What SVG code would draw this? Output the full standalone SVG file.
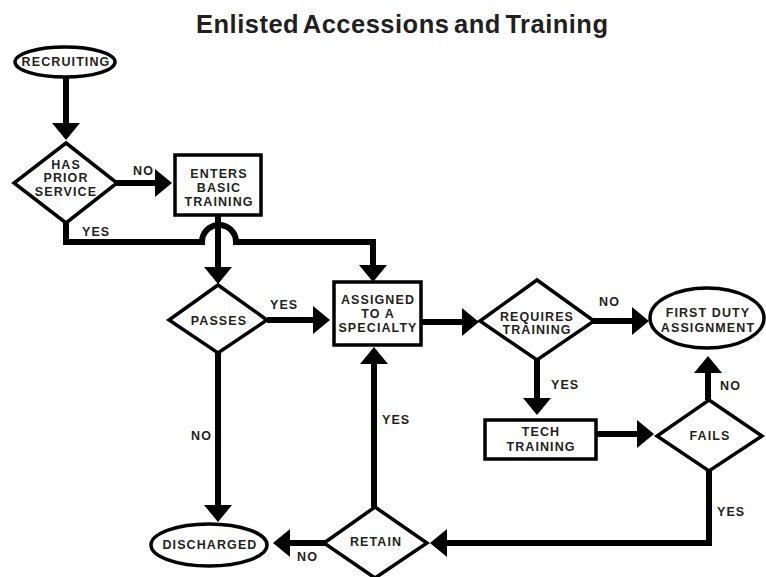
<svg xmlns="http://www.w3.org/2000/svg" width="766" height="577" viewBox="0 0 766 577">
<style>
.shape{fill:#fff;stroke:#000;stroke-width:3.5}
.t{font-family:"Liberation Sans",Arial,sans-serif;font-weight:bold;font-size:12.5px;fill:#231f20;text-anchor:middle;letter-spacing:1.1px}
.lbl{font-family:"Liberation Sans",Arial,sans-serif;font-weight:bold;font-size:12.5px;fill:#231f20;letter-spacing:1.1px}
.c{fill:none;stroke:#000;stroke-width:6;marker-end:url(#ah)}
.title{font-family:"Liberation Sans",Arial,sans-serif;font-weight:bold;font-size:25.5px;fill:#231f20;word-spacing:-3px}
</style>
<defs>
<marker id="ah" markerUnits="userSpaceOnUse" markerWidth="18" markerHeight="30" refX="0" refY="14" orient="auto" overflow="visible">
<path d="M0,0 L17,14 L0,28 z" fill="#000"/>
</marker>
</defs>
<rect width="766" height="577" fill="#fff"/>
<text class="title" x="196" y="33" textLength="412" lengthAdjust="spacing">Enlisted Accessions and Training</text>

<g id="connectors">
<path class="c" d="M66,77 V123"/>
<path class="c" d="M116,183 H155"/>
<path class="c" d="M218,215 V267"/>
<path class="c" d="M66,222 V242 H202 A16,16 0 0 1 236,242 H373 V265"/>
<path class="c" d="M267,320 H313"/>
<path class="c" d="M421,322 H462"/>
<path class="c" d="M593,321 H632"/>
<path class="c" d="M537,358 V398"/>
<path class="c" d="M596,434 H637"/>
<path class="c" d="M708,400 V373"/>
<path class="c" d="M709,471 V543 H447"/>
<path class="c" d="M374,507 V364"/>
<path class="c" d="M325,543 H290"/>
<path class="c" d="M218,352 V505"/>
<text class="lbl" x="133" y="175">NO</text>
<text class="lbl" x="82" y="236">YES</text>
<text class="lbl" x="270" y="309">YES</text>
<text class="lbl" x="599" y="306">NO</text>
<text class="lbl" x="551" y="389">YES</text>
<text class="lbl" x="720" y="390">NO</text>
<text class="lbl" x="717" y="516">YES</text>
<text class="lbl" x="382" y="424">YES</text>
<text class="lbl" x="297" y="561">NO</text>
<text class="lbl" x="191" y="440">NO</text>
</g>

<g id="recruiting">
<ellipse class="shape" cx="65" cy="62" rx="50" ry="15"/>
<text class="t" x="66" y="66">RECRUITING</text>
</g>
<g id="prior-service">
<polygon class="shape" points="66,143 117,183 66,223 14,183"/>
<text class="t" x="66" y="169">HAS</text>
<text class="t" x="66" y="182">PRIOR</text>
<text class="t" x="66" y="196">SERVICE</text>
</g>
<g id="basic-training">
<rect class="shape" x="175" y="155" width="86" height="60"/>
<text class="t" x="219" y="178">ENTERS</text>
<text class="t" x="219" y="192">BASIC</text>
<text class="t" x="219" y="206">TRAINING</text>
</g>
<g id="passes">
<polygon class="shape" points="218,285 267,320 218,353 169,320"/>
<text class="t" x="219" y="325">PASSES</text>
</g>
<g id="assigned">
<rect class="shape" x="334" y="282" width="87" height="63"/>
<text class="t" x="378" y="304">ASSIGNED</text>
<text class="t" x="378" y="318">TO A</text>
<text class="t" x="378" y="332">SPECIALTY</text>
</g>
<g id="requires-training">
<polygon class="shape" points="537,280 594,321 537,360 480,321"/>
<text class="t" x="537" y="321">REQUIRES</text>
<text class="t" x="537" y="334">TRAINING</text>
</g>
<g id="first-duty">
<ellipse class="shape" cx="707" cy="318" rx="57" ry="30"/>
<text class="t" x="708" y="317">FIRST DUTY</text>
<text class="t" x="708" y="332">ASSIGNMENT</text>
</g>
<g id="tech-training">
<rect class="shape" x="485" y="420" width="111" height="39"/>
<text class="t" x="541" y="436">TECH</text>
<text class="t" x="541" y="451">TRAINING</text>
</g>
<g id="fails">
<polygon class="shape" points="709,400 762,436 709,471 657,436"/>
<text class="t" x="710" y="440">FAILS</text>
</g>
<g id="retain">
<polygon class="shape" points="375,507 427,543 375,578 324,543"/>
<text class="t" x="376" y="546">RETAIN</text>
</g>
<g id="discharged">
<ellipse class="shape" cx="209" cy="545" rx="58" ry="21"/>
<text class="t" x="210" y="549">DISCHARGED</text>
</g>
</svg>
